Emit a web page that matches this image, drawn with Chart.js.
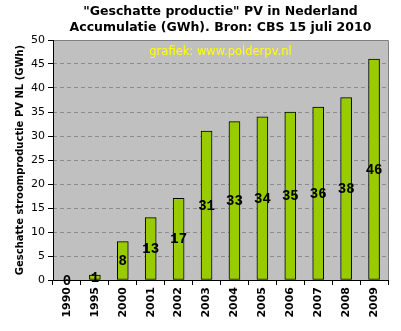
<!DOCTYPE html>
<html>
<head>
<meta charset="utf-8">
<script src="https://cdn.jsdelivr.net/npm/chart.js@4.4.1/dist/chart.umd.min.js"></script>
<style>
  html, body { margin: 0; padding: 0; background: #ffffff; }
  #wrap { width: 401px; height: 331px; }
</style>
</head>
<body>
<div id="wrap"><canvas id="chart" width="401" height="331"></canvas></div>
<script>
const jaren = ["1990", "1995", "2000", "2001", "2002", "2003", "2004", "2005", "2006", "2007", "2008", "2009"];
const productie = [0, 1, 8, 13, 17, 31, 33, 34, 35, 36, 38, 46];
const titelRegels = ['"Geschatte productie" PV in Nederland', "Accumulatie (GWh). Bron: CBS 15 juli 2010"];
const asTitel = "Geschatte stroomproductie PV NL (GWh)";
const watermerk = "grafiek: www.polderpv.nl";

// achtergrond, rand, watermerk en waarden in de staven
const extraPlugin = {
    id: "extra",
    beforeDraw(chart) {
        const ctx = chart.ctx, a = chart.chartArea;
        ctx.save();
        ctx.fillStyle = "#c0c0c0";
        ctx.fillRect(a.left, a.top, a.right - a.left, a.bottom - a.top);
        ctx.restore();
    },
    afterDatasetsDraw(chart) {
        const ctx = chart.ctx, a = chart.chartArea;
        ctx.save();
        ctx.lineWidth = 1;
        ctx.strokeStyle = "#808080";
        ctx.beginPath();
        ctx.moveTo(a.left, a.top + 0.5);
        ctx.lineTo(a.right + 0.5, a.top + 0.5);
        ctx.lineTo(a.right + 0.5, a.bottom);
        ctx.stroke();
        ctx.strokeStyle = "#000000";
        ctx.beginPath();
        ctx.moveTo(a.left + 0.5, a.top);
        ctx.lineTo(a.left + 0.5, a.bottom + 0.5);
        ctx.lineTo(a.right + 1, a.bottom + 0.5);
        ctx.stroke();

        ctx.fillStyle = "#ffff00";
        ctx.font = "11.5px 'DejaVu Sans'";
        ctx.textAlign = "center";
        ctx.textBaseline = "middle";
        ctx.fillText(watermerk, (a.left + a.right) / 2, a.top + 12);

        ctx.fillStyle = "#000000";
        ctx.font = "bold 14px 'Liberation Mono'";
        chart.getDatasetMeta(0).data.forEach((bar, i) => {
            ctx.fillText(String(productie[i]), bar.x, (bar.y + bar.base) / 2 + 1);
        });
        ctx.restore();
    }
};

new Chart(document.getElementById("chart"), {
    type: "bar",
    data: {
        labels: jaren,
        datasets: [{
            data: productie,
            backgroundColor: "#99cc00",
            borderColor: "#000000",
            borderWidth: 1,
            borderSkipped: false,
            barThickness: 11
        }]
    },
    options: {
        responsive: false,
        animation: false,
        layout: { padding: { left: 0, right: 13, top: 0, bottom: 0 } },
        plugins: {
            legend: { display: false },
            tooltip: { enabled: false },
            title: {
                display: true,
                text: titelRegels,
                fullSize: false,
                color: "#000000",
                font: { family: "'DejaVu Sans'", size: 12.5, weight: "bold", lineHeight: 1.28 },
                padding: { top: 4, bottom: 4 }
            }
        },
        scales: {
            x: {
                grid: {
                    display: true,
                    offset: true,
                    drawOnChartArea: false,
                    drawTicks: true,
                    tickLength: 5,
                    color: "#000000"
                },
                border: { display: false },
                ticks: {
                    color: "#000000",
                    minRotation: 90,
                    maxRotation: 90,
                    padding: 2,
                    font: { family: "'DejaVu Sans'", size: 11, weight: "bold" }
                },
                afterFit(scale) { scale.height = 51; }
            },
            y: {
                min: 0,
                max: 50,
                ticks: {
                    stepSize: 5,
                    color: "#000000",
                    padding: 3,
                    font: { family: "'DejaVu Sans'", size: 11 }
                },
                grid: {
                    color: "#8c8c8c",
                    tickColor: "#000000",
                    tickLength: 5,
                    tickBorderDash: [],
                    drawTicks: true
                },
                border: { display: false, dash: [4, 3] },
                title: {
                    display: true,
                    text: asTitel,
                    color: "#000000",
                    padding: { top: 14, bottom: 0 },
                    font: { family: "'DejaVu Sans'", size: 10, weight: "bold" }
                },
                afterFit(scale) { scale.width = 53; }
            }
        }
    },
    plugins: [extraPlugin]
});
</script>
</body>
</html>
